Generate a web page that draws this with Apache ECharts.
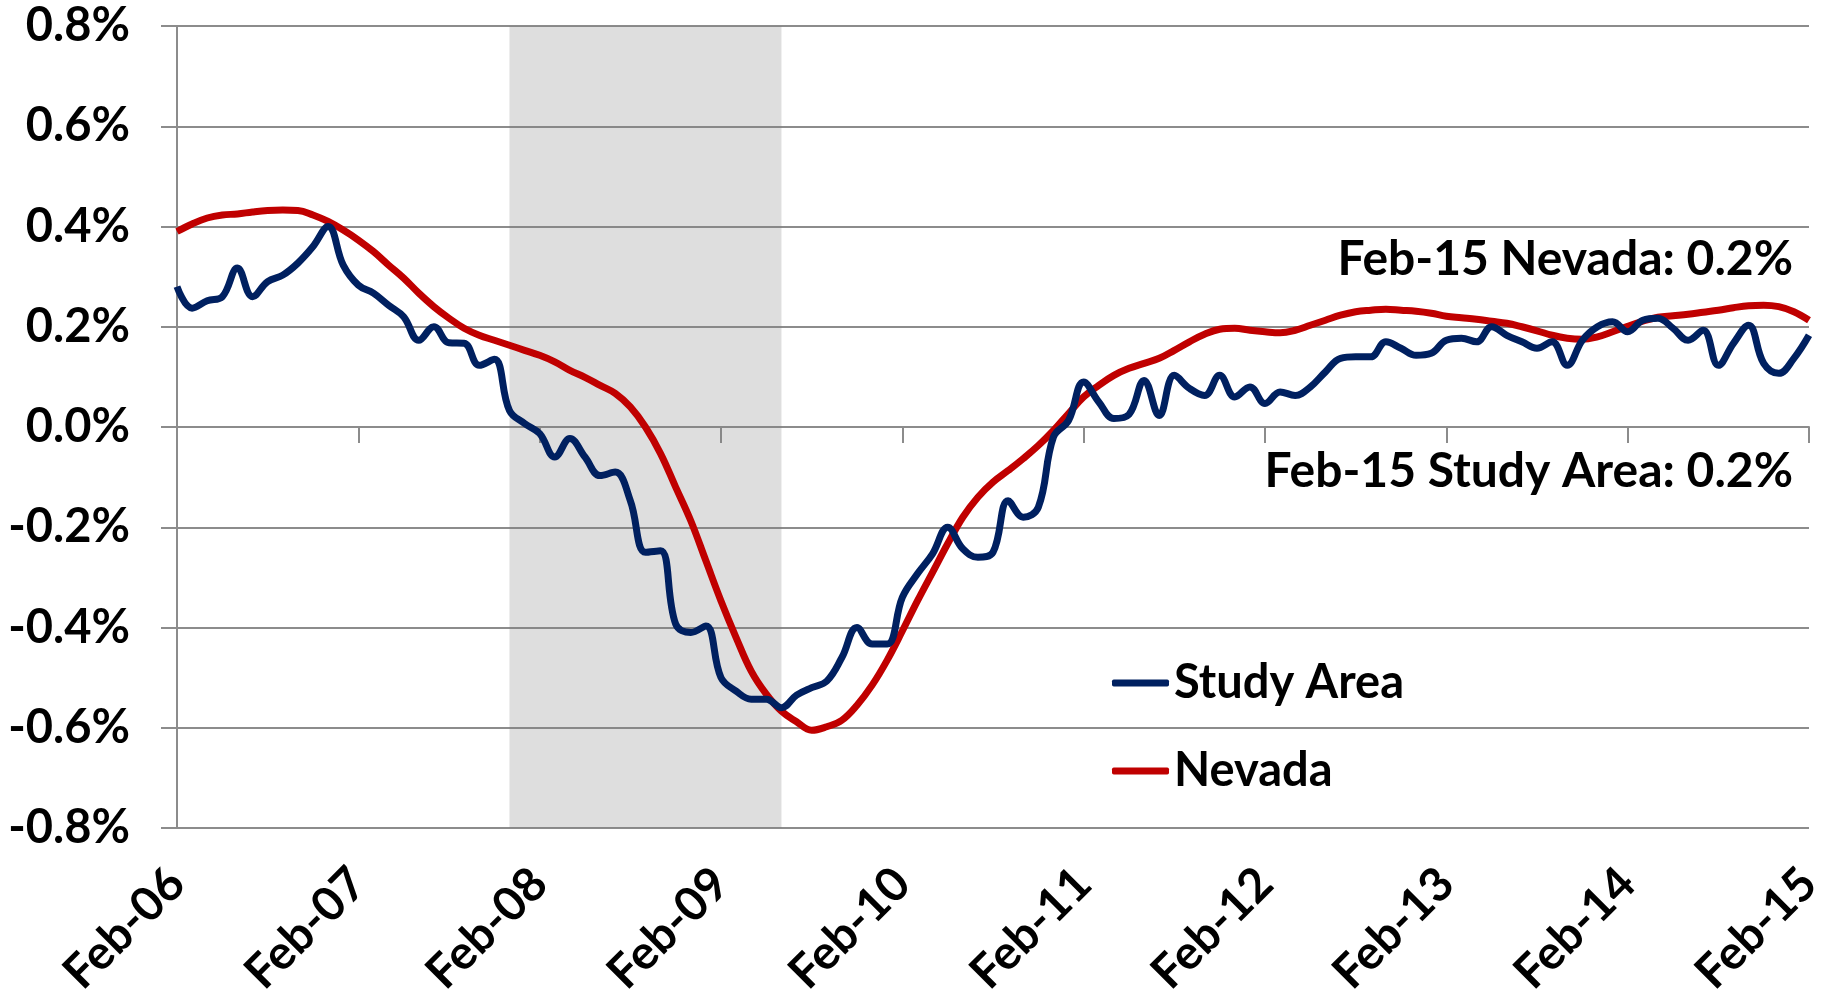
<!DOCTYPE html>
<html>
<head>
<meta charset="utf-8">
<script src="https://cdn.jsdelivr.net/npm/echarts/dist/echarts.min.js"></script>
<style>
  html, body { margin: 0; padding: 0; background: #fff; }
  #chart { width: 1831px; height: 993px; }
</style>
</head>
<body>
<div id="chart"></div>
<script>
// monthly change, Feb-06 .. Feb-15 (percent)
const monthNames = ["Jan", "Feb", "Mar", "Apr", "May", "Jun", "Jul", "Aug", "Sep", "Oct", "Nov", "Dec"];
const months = [];
for (let y = 2006; y <= 2015; y++) {
  for (let m = 0; m < 12; m++) {
    if (y === 2006 && m < 1) continue;
    if (y === 2015 && m > 1) break;
    months.push(monthNames[m] + "-" + String(y).slice(2));
  }
}

const studyArea = [
  0.28, 0.237, 0.252, 0.26, 0.317, 0.26, 0.29, 0.303, 0.327, 0.36, 0.40, 0.323,
  0.283, 0.267, 0.243, 0.22, 0.173, 0.20, 0.168, 0.167, 0.123, 0.135, 0.033, 0.007,
  -0.013, -0.06, -0.023, -0.06, -0.097, -0.09, -0.147, -0.25, -0.247, -0.393, -0.41, -0.397,
  -0.50, -0.527, -0.543, -0.543, -0.56, -0.535, -0.52, -0.507, -0.46, -0.40, -0.433, -0.433,
  -0.34, -0.293, -0.253, -0.20, -0.243, -0.26, -0.25, -0.147, -0.18, -0.16, -0.02, 0.013,
  0.09, 0.05, 0.017, 0.025, 0.093, 0.023, 0.103, 0.077, 0.063, 0.103, 0.06, 0.08,
  0.047, 0.07, 0.063, 0.08, 0.11, 0.137, 0.14, 0.14, 0.17, 0.157, 0.143, 0.147,
  0.173, 0.177, 0.17, 0.2, 0.183, 0.17, 0.157, 0.17, 0.123, 0.173, 0.2, 0.21,
  0.19, 0.213, 0.217, 0.197, 0.173, 0.193, 0.123, 0.167, 0.203, 0.127, 0.107, 0.137,
  0.183
];

const nevada = [
  0.39, 0.405, 0.417, 0.423, 0.425, 0.429, 0.432, 0.433, 0.432, 0.423, 0.41, 0.393,
  0.373, 0.35, 0.323, 0.297, 0.267, 0.24, 0.217, 0.197, 0.183, 0.173, 0.163, 0.153,
  0.143, 0.13, 0.113, 0.099, 0.083, 0.067, 0.04, 0.0, -0.053, -0.12, -0.187, -0.267,
  -0.347, -0.42, -0.487, -0.533, -0.567, -0.588, -0.605, -0.598, -0.585, -0.555, -0.515, -0.465,
  -0.407, -0.347, -0.29, -0.233, -0.18, -0.14, -0.11, -0.087, -0.063, -0.037, -0.007, 0.027,
  0.06, 0.083, 0.103, 0.117, 0.127, 0.137, 0.153, 0.17, 0.185, 0.195, 0.197, 0.193,
  0.19, 0.188, 0.193, 0.203, 0.213, 0.223, 0.23, 0.233, 0.235, 0.233, 0.231, 0.227,
  0.221, 0.218, 0.215, 0.211, 0.207, 0.2, 0.192, 0.183, 0.177, 0.175, 0.18, 0.19,
  0.201, 0.211, 0.219, 0.222, 0.225, 0.229, 0.233, 0.238, 0.242, 0.243, 0.24, 0.23,
  0.213
];

const recession = ["Dec-07", "Jun-09"];
const notes = ["Feb-15 Nevada: 0.2%", "Feb-15 Study Area: 0.2%"];

const FONT = "Lato, Carlito, 'Liberation Sans', sans-serif";
const FS = 47;
const GRID_GRAY = "#8c8c8c";

const chart = echarts.init(document.getElementById("chart"));
chart.setOption({
  backgroundColor: "#fff",
  animation: false,
  grid: { left: 177, right: 22, top: 26, bottom: 165, outerBoundsMode: "none", containLabel: false },
  legend: {
    data: ["Study Area", "Nevada"],
    orient: "vertical",
    left: 1107,
    top: 652,
    itemWidth: 57,
    itemHeight: 7,
    itemGap: 36,
    icon: "roundRect",
    textStyle: { fontFamily: FONT, fontWeight: "bold", fontSize: FS, color: "#000", lineHeight: 52 },
  },
  xAxis: [
    {
      type: "category",
      data: months,
      boundaryGap: false,
      axisLine: { show: false, onZero: false },
      axisTick: { show: false },
      axisLabel: {
        interval: 11,
        rotate: 45,
        margin: 48,
        fontFamily: FONT,
        fontWeight: "bold",
        fontSize: FS,
        color: "#000",
      },
      splitLine: { show: false },
    },
    {
      type: "category",
      data: months,
      boundaryGap: false,
      position: "bottom",
      axisLine: { show: true, onZero: true, lineStyle: { color: GRID_GRAY, width: 2 } },
      axisTick: { show: true, interval: 11, length: 16, lineStyle: { color: GRID_GRAY, width: 2 } },
      axisLabel: { show: false },
      splitLine: { show: false },
    },
  ],
  yAxis: {
    type: "value",
    min: -0.8,
    max: 0.8,
    interval: 0.2,
    axisLine: { show: true, lineStyle: { color: GRID_GRAY, width: 2 } },
    axisTick: { show: true, length: 16, lineStyle: { color: GRID_GRAY, width: 2 } },
    splitLine: { show: true, lineStyle: { color: GRID_GRAY, width: 2 } },
    axisLabel: {
      margin: 47,
      fontFamily: FONT,
      fontWeight: "bold",
      fontSize: FS,
      color: "#000",
      formatter: (v) => v.toFixed(1) + "%",
    },
  },
  series: [
    {
      name: "Study Area",
      type: "line",
      data: studyArea,
      smooth: 0.4,
      symbol: "none",
      z: 3,
      lineStyle: { color: "#002060", width: 7 },
      itemStyle: { color: "#002060" },
    },
    {
      name: "Nevada",
      type: "line",
      data: nevada,
      smooth: 0.4,
      symbol: "none",
      z: 2,
      lineStyle: { color: "#C00000", width: 7 },
      itemStyle: { color: "#C00000" },
    },
    {
      name: "recession",
      type: "line",
      data: [],
      z: 10,
      silent: true,
      markArea: {
        silent: true,
        itemStyle: { color: "rgba(124,124,124,0.25)" },
        data: [[{ xAxis: recession[0] }, { xAxis: recession[1] }]],
      },
    },
  ],
  graphic: [
    {
      type: "text",
      x: 1793,
      y: 260,
      style: { text: notes[0], font: "bold 48px " + FONT, fill: "#000", align: "right", verticalAlign: "middle" },
    },
    {
      type: "text",
      x: 1793,
      y: 472,
      style: { text: notes[1], font: "bold 48px " + FONT, fill: "#000", align: "right", verticalAlign: "middle" },
    },
  ],
});
</script>
</body>
</html>
